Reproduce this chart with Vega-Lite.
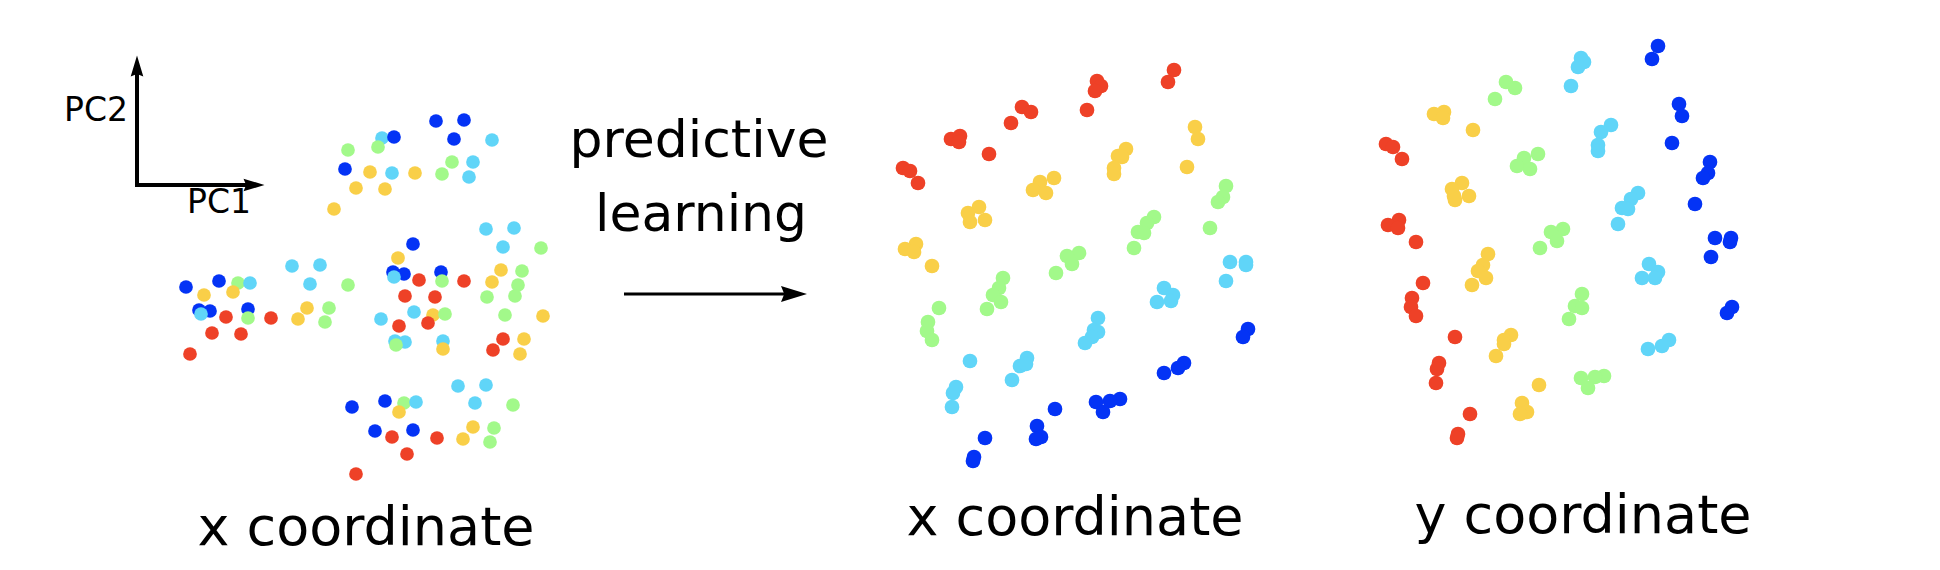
{
  "$schema": "https://vega.github.io/schema/vega-lite/v6.json",
  "width": 1940,
  "height": 570,
  "padding": 0,
  "autosize": {"type": "fit", "contains": "padding"},
  "background": "white",
  "config": {"view": {"stroke": null}},
  "datasets": {
    "left": [
      {"x":436,"y":121,"c":"b"},{"x":464,"y":120,"c":"b"},{"x":382,"y":138,"c":"c"},{"x":394,"y":137,"c":"b"},{"x":454,"y":139,"c":"b"},{"x":492,"y":140,"c":"c"},{"x":348,"y":150,"c":"g"},{"x":378,"y":147,"c":"g"},{"x":452,"y":162,"c":"g"},{"x":473,"y":162,"c":"c"},{"x":345,"y":169,"c":"b"},{"x":370,"y":172,"c":"y"},{"x":392,"y":173,"c":"c"},{"x":415,"y":173,"c":"y"},{"x":442,"y":174,"c":"g"},{"x":469,"y":177,"c":"c"},{"x":356,"y":188,"c":"y"},{"x":385,"y":189,"c":"y"},{"x":334,"y":209,"c":"y"},
      {"x":486,"y":229,"c":"c"},{"x":514,"y":228,"c":"c"},{"x":413,"y":244,"c":"b"},{"x":503,"y":247,"c":"c"},{"x":541,"y":248,"c":"g"},{"x":398,"y":258,"c":"y"},{"x":292,"y":266,"c":"c"},{"x":320,"y":265,"c":"c"},{"x":186,"y":287,"c":"b"},{"x":219,"y":281,"c":"b"},{"x":238,"y":283,"c":"g"},{"x":250,"y":283,"c":"c"},{"x":204,"y":295,"c":"y"},{"x":233,"y":292,"c":"y"},{"x":310,"y":284,"c":"c"},{"x":348,"y":285,"c":"g"},{"x":393,"y":272,"c":"b"},{"x":404,"y":274,"c":"b"},{"x":394,"y":277,"c":"c"},{"x":441,"y":272,"c":"b"},{"x":442,"y":281,"c":"g"},{"x":419,"y":280,"c":"r"},{"x":464,"y":281,"c":"r"},{"x":501,"y":270,"c":"y"},{"x":492,"y":282,"c":"y"},{"x":522,"y":271,"c":"g"},{"x":518,"y":285,"c":"g"},{"x":487,"y":297,"c":"g"},{"x":515,"y":296,"c":"g"},{"x":405,"y":296,"c":"r"},{"x":435,"y":297,"c":"r"},{"x":199,"y":310,"c":"b"},{"x":210,"y":311,"c":"b"},{"x":201,"y":314,"c":"c"},{"x":248,"y":309,"c":"b"},{"x":248,"y":318,"c":"g"},{"x":226,"y":317,"c":"r"},{"x":271,"y":318,"c":"r"},{"x":307,"y":308,"c":"y"},{"x":298,"y":319,"c":"y"},{"x":329,"y":308,"c":"g"},{"x":325,"y":322,"c":"g"},{"x":381,"y":319,"c":"c"},{"x":414,"y":312,"c":"c"},{"x":433,"y":315,"c":"y"},{"x":445,"y":314,"c":"g"},{"x":399,"y":326,"c":"r"},{"x":428,"y":323,"c":"r"},{"x":505,"y":315,"c":"g"},{"x":543,"y":316,"c":"y"},{"x":212,"y":333,"c":"r"},{"x":241,"y":334,"c":"r"},{"x":395,"y":341,"c":"c"},{"x":405,"y":342,"c":"c"},{"x":396,"y":345,"c":"g"},{"x":443,"y":341,"c":"c"},{"x":443,"y":349,"c":"y"},{"x":503,"y":339,"c":"r"},{"x":524,"y":339,"c":"y"},{"x":493,"y":350,"c":"r"},{"x":520,"y":354,"c":"y"},{"x":190,"y":354,"c":"r"},
      {"x":458,"y":386,"c":"c"},{"x":486,"y":385,"c":"c"},{"x":352,"y":407,"c":"b"},{"x":385,"y":401,"c":"b"},{"x":404,"y":403,"c":"g"},{"x":416,"y":402,"c":"c"},{"x":399,"y":412,"c":"y"},{"x":475,"y":403,"c":"c"},{"x":513,"y":405,"c":"g"},{"x":375,"y":431,"c":"b"},{"x":392,"y":437,"c":"r"},{"x":413,"y":430,"c":"b"},{"x":437,"y":438,"c":"r"},{"x":473,"y":427,"c":"y"},{"x":494,"y":428,"c":"g"},{"x":463,"y":439,"c":"y"},{"x":490,"y":442,"c":"g"},{"x":407,"y":454,"c":"r"},{"x":356,"y":474,"c":"r"}
    ],
    "learned": [
      {"x":1174,"y":70,"c":"r"},{"x":1168,"y":82,"c":"r"},{"x":1097,"y":81,"c":"r"},{"x":1101,"y":86,"c":"r"},{"x":1095,"y":91,"c":"r"},{"x":1087,"y":110,"c":"r"},{"x":1022,"y":107,"c":"r"},{"x":1031,"y":112,"c":"r"},{"x":1011,"y":123,"c":"r"},{"x":951,"y":139,"c":"r"},{"x":960,"y":136,"c":"r"},{"x":959,"y":142,"c":"r"},{"x":989,"y":154,"c":"r"},{"x":903,"y":168,"c":"r"},{"x":910,"y":171,"c":"r"},{"x":918,"y":183,"c":"r"},
      {"x":1195,"y":127,"c":"y"},{"x":1198,"y":139,"c":"y"},{"x":1187,"y":167,"c":"y"},{"x":1126,"y":149,"c":"y"},{"x":1118,"y":156,"c":"y"},{"x":1122,"y":157,"c":"y"},{"x":1114,"y":168,"c":"y"},{"x":1114,"y":174,"c":"y"},{"x":1054,"y":178,"c":"y"},{"x":1040,"y":182,"c":"y"},{"x":1033,"y":190,"c":"y"},{"x":1046,"y":193,"c":"y"},{"x":979,"y":207,"c":"y"},{"x":968,"y":213,"c":"y"},{"x":970,"y":222,"c":"y"},{"x":985,"y":220,"c":"y"},{"x":916,"y":244,"c":"y"},{"x":905,"y":249,"c":"y"},{"x":914,"y":252,"c":"y"},{"x":932,"y":266,"c":"y"},
      {"x":1226,"y":186,"c":"g"},{"x":1223,"y":197,"c":"g"},{"x":1218,"y":202,"c":"g"},{"x":1210,"y":228,"c":"g"},{"x":1154,"y":217,"c":"g"},{"x":1147,"y":223,"c":"g"},{"x":1138,"y":232,"c":"g"},{"x":1144,"y":233,"c":"g"},{"x":1134,"y":248,"c":"g"},{"x":1079,"y":253,"c":"g"},{"x":1067,"y":256,"c":"g"},{"x":1072,"y":264,"c":"g"},{"x":1056,"y":273,"c":"g"},{"x":1003,"y":278,"c":"g"},{"x":999,"y":288,"c":"g"},{"x":993,"y":295,"c":"g"},{"x":1001,"y":302,"c":"g"},{"x":987,"y":309,"c":"g"},{"x":939,"y":308,"c":"g"},{"x":928,"y":322,"c":"g"},{"x":927,"y":331,"c":"g"},{"x":932,"y":340,"c":"g"},
      {"x":1230,"y":262,"c":"c"},{"x":1246,"y":262,"c":"c"},{"x":1246,"y":265,"c":"c"},{"x":1226,"y":281,"c":"c"},{"x":1164,"y":288,"c":"c"},{"x":1173,"y":295,"c":"c"},{"x":1171,"y":301,"c":"c"},{"x":1157,"y":302,"c":"c"},{"x":1098,"y":318,"c":"c"},{"x":1094,"y":330,"c":"c"},{"x":1098,"y":332,"c":"c"},{"x":1092,"y":337,"c":"c"},{"x":1085,"y":343,"c":"c"},{"x":1027,"y":358,"c":"c"},{"x":1020,"y":366,"c":"c"},{"x":1026,"y":364,"c":"c"},{"x":1012,"y":380,"c":"c"},{"x":970,"y":361,"c":"c"},{"x":956,"y":387,"c":"c"},{"x":953,"y":393,"c":"c"},{"x":952,"y":407,"c":"c"},
      {"x":1248,"y":329,"c":"b"},{"x":1243,"y":337,"c":"b"},{"x":1184,"y":363,"c":"b"},{"x":1178,"y":368,"c":"b"},{"x":1164,"y":373,"c":"b"},{"x":1120,"y":399,"c":"b"},{"x":1110,"y":401,"c":"b"},{"x":1096,"y":402,"c":"b"},{"x":1103,"y":412,"c":"b"},{"x":1055,"y":409,"c":"b"},{"x":1037,"y":426,"c":"b"},{"x":1041,"y":437,"c":"b"},{"x":1036,"y":439,"c":"b"},{"x":985,"y":438,"c":"b"},{"x":974,"y":457,"c":"b"},{"x":973,"y":461,"c":"b"},
      {"x":1658,"y":46,"c":"b"},{"x":1652,"y":59,"c":"b"},{"x":1679,"y":104,"c":"b"},{"x":1682,"y":116,"c":"b"},{"x":1672,"y":143,"c":"b"},{"x":1710,"y":162,"c":"b"},{"x":1708,"y":173,"c":"b"},{"x":1703,"y":178,"c":"b"},{"x":1695,"y":204,"c":"b"},{"x":1715,"y":238,"c":"b"},{"x":1731,"y":238,"c":"b"},{"x":1730,"y":242,"c":"b"},{"x":1711,"y":257,"c":"b"},{"x":1732,"y":307,"c":"b"},{"x":1727,"y":313,"c":"b"},
      {"x":1581,"y":58,"c":"c"},{"x":1584,"y":62,"c":"c"},{"x":1578,"y":67,"c":"c"},{"x":1571,"y":86,"c":"c"},{"x":1611,"y":125,"c":"c"},{"x":1601,"y":132,"c":"c"},{"x":1598,"y":145,"c":"c"},{"x":1598,"y":151,"c":"c"},{"x":1638,"y":193,"c":"c"},{"x":1631,"y":199,"c":"c"},{"x":1622,"y":208,"c":"c"},{"x":1628,"y":209,"c":"c"},{"x":1618,"y":224,"c":"c"},{"x":1649,"y":264,"c":"c"},{"x":1658,"y":272,"c":"c"},{"x":1655,"y":278,"c":"c"},{"x":1642,"y":278,"c":"c"},{"x":1669,"y":340,"c":"c"},{"x":1662,"y":346,"c":"c"},{"x":1648,"y":349,"c":"c"},
      {"x":1506,"y":82,"c":"g"},{"x":1515,"y":88,"c":"g"},{"x":1495,"y":99,"c":"g"},{"x":1538,"y":154,"c":"g"},{"x":1524,"y":158,"c":"g"},{"x":1517,"y":166,"c":"g"},{"x":1530,"y":169,"c":"g"},{"x":1563,"y":229,"c":"g"},{"x":1551,"y":232,"c":"g"},{"x":1557,"y":241,"c":"g"},{"x":1540,"y":248,"c":"g"},{"x":1582,"y":294,"c":"g"},{"x":1575,"y":306,"c":"g"},{"x":1582,"y":308,"c":"g"},{"x":1569,"y":319,"c":"g"},{"x":1604,"y":376,"c":"g"},{"x":1595,"y":377,"c":"g"},{"x":1581,"y":378,"c":"g"},{"x":1588,"y":388,"c":"g"},
      {"x":1444,"y":112,"c":"y"},{"x":1434,"y":114,"c":"y"},{"x":1443,"y":118,"c":"y"},{"x":1473,"y":130,"c":"y"},{"x":1462,"y":183,"c":"y"},{"x":1452,"y":189,"c":"y"},{"x":1454,"y":196,"c":"y"},{"x":1469,"y":196,"c":"y"},{"x":1455,"y":200,"c":"y"},{"x":1488,"y":254,"c":"y"},{"x":1483,"y":265,"c":"y"},{"x":1478,"y":271,"c":"y"},{"x":1486,"y":278,"c":"y"},{"x":1472,"y":285,"c":"y"},{"x":1511,"y":335,"c":"y"},{"x":1504,"y":340,"c":"y"},{"x":1504,"y":344,"c":"y"},{"x":1496,"y":356,"c":"y"},{"x":1539,"y":385,"c":"y"},{"x":1522,"y":403,"c":"y"},{"x":1527,"y":412,"c":"y"},{"x":1520,"y":414,"c":"y"},
      {"x":1386,"y":144,"c":"r"},{"x":1393,"y":147,"c":"r"},{"x":1402,"y":159,"c":"r"},{"x":1399,"y":220,"c":"r"},{"x":1388,"y":225,"c":"r"},{"x":1398,"y":228,"c":"r"},{"x":1416,"y":242,"c":"r"},{"x":1423,"y":283,"c":"r"},{"x":1412,"y":298,"c":"r"},{"x":1411,"y":307,"c":"r"},{"x":1416,"y":316,"c":"r"},{"x":1455,"y":337,"c":"r"},{"x":1439,"y":363,"c":"r"},{"x":1437,"y":369,"c":"r"},{"x":1436,"y":383,"c":"r"},{"x":1470,"y":414,"c":"r"},{"x":1458,"y":434,"c":"r"},{"x":1457,"y":438,"c":"r"}
    ]
  },
  "encoding": {
    "x": {"field": "x", "type": "quantitative", "scale": {"domain": [0, 1940], "nice": false, "zero": false}, "axis": null},
    "y": {"field": "y", "type": "quantitative", "scale": {"domain": [0, 570], "nice": false, "zero": false, "reverse": true}, "axis": null}
  },
  "layer": [
    {
      "data": {"values": [{"x": 137, "y": 187, "x2": 137, "y2": 72}, {"x": 135, "y": 185, "x2": 250, "y2": 185}]},
      "mark": {"type": "rule", "stroke": "black", "strokeWidth": 4},
      "encoding": {"x2": {"field": "x2"}, "y2": {"field": "y2"}}
    },
    {
      "data": {"values": [{"x": 624, "y": 294, "x2": 788, "y2": 294}]},
      "mark": {"type": "rule", "stroke": "black", "strokeWidth": 3},
      "encoding": {"x2": {"field": "x2"}, "y2": {"field": "y2"}}
    },
    {
      "data": {"values": [{"x": 137, "y": 66}]},
      "mark": {"type": "point", "filled": true, "opacity": 1, "color": "black", "size": 441, "shape": "M0,-1L-0.6,1L0,0.75L0.6,1Z"}
    },
    {
      "data": {"values": [{"x": 254, "y": 185}]},
      "mark": {"type": "point", "filled": true, "opacity": 1, "color": "black", "size": 441, "shape": "M1,0L-1,-0.6L-0.75,0L-1,0.6Z"}
    },
    {
      "data": {"values": [{"x": 794, "y": 294}]},
      "mark": {"type": "point", "filled": true, "opacity": 1, "color": "black", "size": 676, "shape": "M1,0L-1,-0.62L-0.75,0L-1,0.62Z"}
    },
    {
      "data": {"name": "left"},
      "mark": {"type": "circle", "opacity": 1, "size": 188},
      "encoding": {
        "color": {"field": "c", "type": "nominal", "legend": null, "scale": {"domain": ["r", "y", "g", "c", "b"], "range": ["#ee4127", "#f9cf48", "#a2f98a", "#60d5f8", "#0433f5"]}}
      }
    },
    {
      "data": {"name": "learned"},
      "mark": {"type": "circle", "opacity": 1, "size": 216},
      "encoding": {
        "color": {"field": "c", "type": "nominal", "legend": null, "scale": {"domain": ["r", "y", "g", "c", "b"], "range": ["#ee4127", "#f9cf48", "#a2f98a", "#60d5f8", "#0433f5"]}}
      }
    },
    {
      "data": {"values": [{"x": 128, "y": 121, "t": "PC2"}, {"x": 251, "y": 213, "t": "PC1"}]},
      "mark": {"type": "text", "font": "DejaVu Sans", "fontSize": 33, "align": "right", "baseline": "alphabetic", "color": "black"},
      "encoding": {"text": {"field": "t"}}
    },
    {
      "data": {"values": [{"x": 699, "y": 157, "t": "predictive"}, {"x": 701, "y": 231, "t": "learning"}]},
      "mark": {"type": "text", "font": "DejaVu Sans", "fontSize": 52, "align": "center", "baseline": "alphabetic", "color": "black"},
      "encoding": {"text": {"field": "t"}}
    },
    {
      "data": {"values": [{"x": 366, "y": 545, "t": "x coordinate"}, {"x": 1075, "y": 535, "t": "x coordinate"}, {"x": 1583, "y": 533, "t": "y coordinate"}]},
      "mark": {"type": "text", "font": "DejaVu Sans", "fontSize": 54, "align": "center", "baseline": "alphabetic", "color": "black"},
      "encoding": {"text": {"field": "t"}}
    }
  ]
}
